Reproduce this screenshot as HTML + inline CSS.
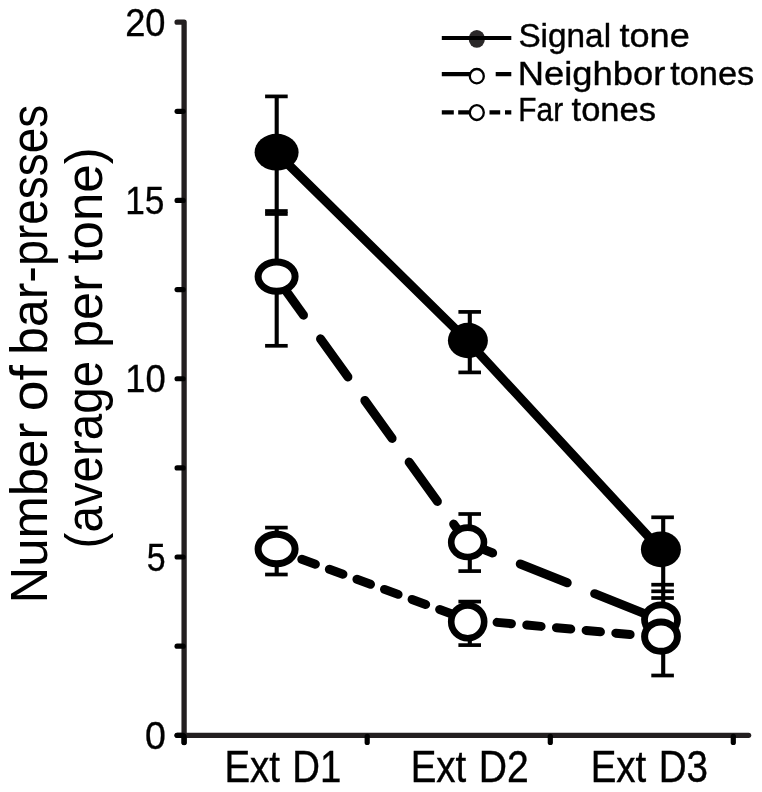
<!DOCTYPE html>
<html lang="en"><head><meta charset="utf-8"><title>Bar-presses across extinction days</title>
<style>
html,body{margin:0;padding:0;background:#fff;}
svg{display:block;}
text{font-family:"Liberation Sans", sans-serif;}
</style></head>
<body>
<svg width="762" height="792" viewBox="0 0 762 792">
<rect width="762" height="792" fill="#fff"/>
<text y="35.90" font-size="39.2" fill="#000" stroke="#000" stroke-width="0.35"><tspan x="125.19" textLength="40.37" lengthAdjust="spacingAndGlyphs">20</tspan></text>
<text y="214.17" font-size="39.2" fill="#000" stroke="#000" stroke-width="0.35"><tspan x="125.25" textLength="39.24" lengthAdjust="spacingAndGlyphs">15</tspan></text>
<text y="392.45" font-size="39.2" fill="#000" stroke="#000" stroke-width="0.35"><tspan x="125.17" textLength="40.49" lengthAdjust="spacingAndGlyphs">10</tspan></text>
<text y="570.73" font-size="39.2" fill="#000" stroke="#000" stroke-width="0.35"><tspan x="146.84" textLength="18.85" lengthAdjust="spacingAndGlyphs">5</tspan></text>
<text y="749.00" font-size="39.2" fill="#000" stroke="#000" stroke-width="0.35"><tspan x="145.00" textLength="20.84" lengthAdjust="spacingAndGlyphs">0</tspan></text>
<text y="782.00" font-size="43.9" fill="#000" stroke="#000" stroke-width="0.4"><tspan x="224.42" textLength="55.56" lengthAdjust="spacingAndGlyphs">Ext</tspan> <tspan x="292.33" textLength="49.02" lengthAdjust="spacingAndGlyphs">D1</tspan></text>
<text y="782.00" font-size="43.9" fill="#000" stroke="#000" stroke-width="0.4"><tspan x="410.72" textLength="55.56" lengthAdjust="spacingAndGlyphs">Ext</tspan> <tspan x="478.67" textLength="50.02" lengthAdjust="spacingAndGlyphs">D2</tspan></text>
<text y="782.00" font-size="43.9" fill="#000" stroke="#000" stroke-width="0.4"><tspan x="590.72" textLength="55.56" lengthAdjust="spacingAndGlyphs">Ext</tspan> <tspan x="658.71" textLength="49.36" lengthAdjust="spacingAndGlyphs">D3</tspan></text>
<text y="47.20" font-size="34" fill="#000" stroke="#000" stroke-width="0.4"><tspan x="518.40" textLength="92.66" lengthAdjust="spacingAndGlyphs">Signal</tspan> <tspan x="619.46" textLength="70.31" lengthAdjust="spacingAndGlyphs">tone</tspan></text>
<text y="84.60" font-size="34" fill="#000" stroke="#000" stroke-width="0.4"><tspan x="517.79" textLength="147.57" lengthAdjust="spacingAndGlyphs">Neighbor</tspan> <tspan x="670.18" textLength="84.06" lengthAdjust="spacingAndGlyphs">tones</tspan></text>
<text y="121.20" font-size="34" fill="#000" stroke="#000" stroke-width="0.4"><tspan x="518.31" textLength="44.84" lengthAdjust="spacingAndGlyphs">Far</tspan> <tspan x="571.58" textLength="84.37" lengthAdjust="spacingAndGlyphs">tones</tspan></text>
<text transform="rotate(-90)" y="46.90" font-size="52" fill="#000"><tspan x="-603.57" textLength="180.92" lengthAdjust="spacingAndGlyphs">Number</tspan> <tspan x="-411.31" textLength="46.05" lengthAdjust="spacingAndGlyphs">of</tspan> <tspan x="-354.63" textLength="88.49" lengthAdjust="spacingAndGlyphs">bar-</tspan><tspan x="-265.69" textLength="160.96" lengthAdjust="spacingAndGlyphs">presses</tspan></text>
<text transform="rotate(-90)" y="101.50" font-size="52" fill="#000"><tspan x="-548.45" textLength="187.54" lengthAdjust="spacingAndGlyphs">(average</tspan> <tspan x="-347.98" textLength="72.95" lengthAdjust="spacingAndGlyphs">per</tspan> <tspan x="-263.77" textLength="116.55" lengthAdjust="spacingAndGlyphs">tone)</tspan></text>
<g fill="none" stroke="#231f20" stroke-width="5.3" stroke-linecap="round" stroke-linejoin="round">
<path d="M184.1,742.50 V22.20 H177.10"/>
<path d="M177.10,735.30 H748.6"/>
</g>
<g fill="none" stroke="#000" stroke-width="5.2" stroke-linecap="round">
<path d="M177.10,735.30 H183.1"/>
<path d="M177.10,646.16 H183.1"/>
<path d="M177.10,557.02 H183.1"/>
<path d="M177.10,467.89 H183.1"/>
<path d="M177.10,378.75 H183.1"/>
<path d="M177.10,289.61 H183.1"/>
<path d="M177.10,200.47 H183.1"/>
<path d="M177.10,111.34 H183.1"/>
<path d="M184.1,736.30 V742.50"/>
<path d="M367.2,736.30 V742.50"/>
<path d="M550.3,736.30 V742.50"/>
<path d="M733.3,736.30 V742.50"/>
</g>
<g fill="none" stroke="#000" stroke-width="3.7">
<path d="M276.7,96.4 V345.8" stroke-width="4.1"/>
<path d="M265.10,96.4 H287.70"/>
<path d="M265.10,211.0 H287.70"/>
<path d="M265.10,214.0 H287.70"/>
<path d="M265.10,345.8 H287.70"/>
<path d="M276.7,527.6 V574.5" stroke-width="4.1"/>
<path d="M265.10,527.6 H287.70"/>
<path d="M265.10,574.5 H287.70"/>
<path d="M469.8,311.9 V372.4" stroke-width="4.1"/>
<path d="M458.40,311.9 H481.00"/>
<path d="M458.40,372.4 H481.00"/>
<path d="M469.8,514.0 V571.1" stroke-width="4.1"/>
<path d="M458.40,514.0 H481.00"/>
<path d="M458.40,571.1 H481.00"/>
<path d="M469.8,601.6 V645.1" stroke-width="4.1"/>
<path d="M458.40,601.6 H481.00"/>
<path d="M458.40,645.1 H481.00"/>
<path d="M663.2,517.3 V675.5" stroke-width="4.1"/>
<path d="M651.30,517.3 H673.90"/>
<path d="M651.30,584.7 H673.90"/>
<path d="M651.30,591.3 H673.90"/>
<path d="M651.30,598.0 H673.90"/>
<path d="M651.30,675.5 H673.90"/>
</g>
<g fill="none" stroke="#000" stroke-width="9.0" stroke-linecap="round">
<path d="M276.2,152.5 L467.5,340.9 L660.5,549.6" stroke-linejoin="round"/>
<path d="M276.05,277.00 L303.48,315.16"/>
<path d="M320.53,338.87 L347.90,376.95"/>
<path d="M364.83,400.50 L392.09,438.42"/>
<path d="M409.13,462.13 L437.38,501.43"/>
<path d="M453.67,524.08 L467.05,542.70"/>
<path d="M467.40,542.90 L492.66,552.98"/>
<path d="M520.25,563.99 L567.24,582.75"/>
<path d="M594.64,593.69 L660.80,620.10"/>
<path d="M301.78,559.27 L315.41,564.23"/>
<path d="M329.35,569.31 L342.97,574.27"/>
<path d="M356.92,579.35 L370.54,584.31"/>
<path d="M384.49,589.39 L398.11,594.36"/>
<path d="M412.06,599.43 L425.68,604.40"/>
<path d="M439.62,609.47 L453.25,614.44"/>
<path d="M497.08,622.37 L511.42,623.68"/>
<path d="M526.76,625.08 L541.10,626.38"/>
<path d="M556.43,627.78 L570.77,629.08"/>
<path d="M586.11,630.48 L600.45,631.79"/>
<path d="M615.79,633.18 L630.13,634.49"/>
</g>
<ellipse cx="276.6" cy="152.2" rx="22" ry="18.4" fill="#000"/>
<ellipse cx="467.9" cy="340.5" rx="20" ry="17.7" fill="#000"/>
<ellipse cx="660.9" cy="549.3" rx="20" ry="17.85" fill="#000"/>
<ellipse cx="276.6" cy="276.6" rx="18.5" ry="14.6" fill="#fff" stroke="#000" stroke-width="7"/>
<ellipse cx="467.6" cy="542.3" rx="16.4" ry="14.7" fill="#fff" stroke="#000" stroke-width="6.6"/>
<ellipse cx="661.0" cy="619.5" rx="16.5" ry="14.7" fill="#fff" stroke="#000" stroke-width="6.8"/>
<ellipse cx="276.6" cy="549.0" rx="18.5" ry="14.8" fill="#fff" stroke="#000" stroke-width="7"/>
<ellipse cx="467.7" cy="621.8" rx="16.5" ry="16.4" fill="#fff" stroke="#000" stroke-width="6.6"/>
<ellipse cx="661.0" cy="636.6" rx="16.4" ry="14.7" fill="#fff" stroke="#000" stroke-width="7"/>
<g fill="none" stroke="#000" stroke-width="4.2">
<path d="M441.8,74.2 H470 M495.7,74.2 H511.3"/>
<path d="M441.8,112.4 H453.8 M458.2,112.4 H470 M489.5,112.4 H500.2 M505,112.4 H511.3"/>
</g>
<ellipse cx="476.8" cy="38.9" rx="8.1" ry="8.9" fill="#2b2829"/>
<path d="M441.8,38 H511.3" fill="none" stroke="#000" stroke-width="4.2"/>
<ellipse cx="476.8" cy="76.2" rx="7.0" ry="7.2" fill="#fff" stroke="#000" stroke-width="2.3"/>
<ellipse cx="476.8" cy="112.6" rx="7.0" ry="7.4" fill="#fff" stroke="#000" stroke-width="2.3"/>
</svg>
</body></html>
